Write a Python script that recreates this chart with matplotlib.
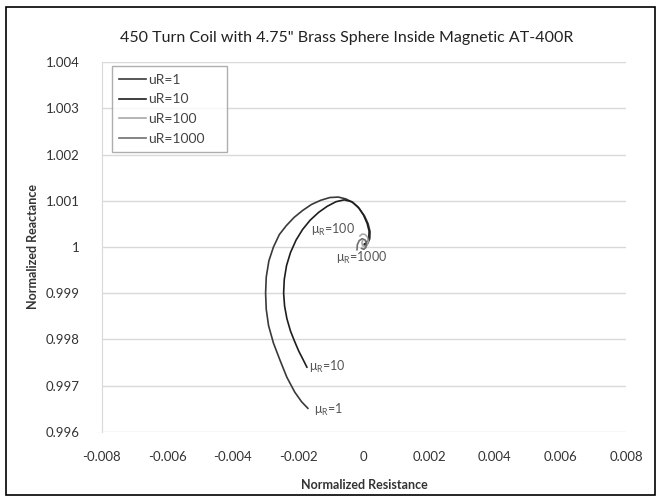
# curvas de impedancia normalizada (bobina con esfera de latón)
import matplotlib
matplotlib.use('Agg')
import matplotlib.pyplot as plt
from matplotlib.patches import Rectangle

plt.rcParams['font.family'] = ['Lato', 'DejaVu Sans']

# datos
series = ['uR=1', 'uR=10', 'uR=100', 'uR=1000']
colores = ['#3a3a3a', '#1e1e1e', '#a8a8a8', '#6e6e6e']

r_1 = [-0.00171, -0.00190, -0.00211, -0.00235, -0.00256, -0.00276, -0.00291,
       -0.00298, -0.00300, -0.00298, -0.00290, -0.00276, -0.00258, -0.00237,
       -0.00213, -0.00187, -0.00160, -0.00132, -0.00104, -0.00078, -0.00055,
       -0.00033, -0.00014, 0.00002, 0.00013, 0.00019, 0.00018, 0.00012,
       0.00004]
x_1 = [0.99651, 0.99665, 0.99686, 0.99718, 0.99755, 0.99792, 0.99830,
       0.99865, 0.99900, 0.99935, 0.99970, 1.00000, 1.00027, 1.00046,
       1.00064, 1.00079, 1.00092, 1.00101, 1.00107, 1.00108, 1.00104,
       1.00096, 1.00083, 1.00067, 1.00050, 1.00033, 1.00018, 1.00008,
       1.00004]

r_10 = [-0.00174, -0.00186, -0.00199, -0.00211, -0.00224, -0.00235, -0.00242,
        -0.00245, -0.00243, -0.00236, -0.00224, -0.00207, -0.00187, -0.00164,
        -0.00138, -0.00112, -0.00085, -0.00060, -0.00037, -0.00017, -0.00001,
        0.00010, 0.00016, 0.00015, 0.00009, 0.00001]
x_10 = [0.99740, 0.99757, 0.99775, 0.99795, 0.99818, 0.99845, 0.99872,
        0.99900, 0.99930, 0.99960, 0.99988, 1.00015, 1.00038, 1.00058,
        1.00075, 1.00088, 1.00098, 1.00102, 1.00098, 1.00086, 1.00069,
        1.00051, 1.00034, 1.00020, 1.00010, 1.00006]

r_100 = [-0.00012, -0.00005, 0.00004, 0.00011, 0.00013, 0.00010, 0.00003,
         -0.00004, -0.00006, -0.00004]
x_100 = [1.00024, 1.00028, 1.00027, 1.00021, 1.00012, 1.00004, 1.00000,
         1.00003, 1.00009, 1.00014]

r_1000 = [-0.00021, -0.00020, -0.00014, -0.00005, 0.00004, 0.00008, 0.00006,
          0.00000, -0.00007]
x_1000 = [0.99994, 1.00005, 1.00014, 1.00018, 1.00015, 1.00007, 0.99999,
          0.99995, 0.99997]

etiquetas = ['μ$_\\mathregular{R}$=1', 'μ$_\\mathregular{R}$=10',
             'μ$_\\mathregular{R}$=100', 'μ$_\\mathregular{R}$=1000']
etq_x = [-0.00152, -0.00166, -0.00160, -0.00085]
etq_y = [0.99647, 0.99741, 1.00036, 0.99976]

xticks = [-0.008, -0.006, -0.004, -0.002, 0, 0.002, 0.004, 0.006, 0.008]
yticks = [0.996, 0.997, 0.998, 0.999, 1, 1.001, 1.002, 1.003, 1.004]

fig = plt.figure(figsize=(6.61, 5.01), dpi=100)
ax = fig.add_axes([0.154, 0.138, 0.793, 0.738])

datos = [(r_1, x_1), (r_10, x_10), (r_100, x_100), (r_1000, x_1000)]
for (rr, xx), nombre, c in zip(datos, series, colores):
    ax.plot(rr, xx, color=c, linewidth=1.2, label=nombre)

for t, tx, ty in zip(etiquetas, etq_x, etq_y):
    ax.text(tx, ty, t, fontsize=9, color='#555555', va='center', ha='left')

ax.set_xlim(-0.008, 0.008)
ax.set_ylim(0.996, 1.004)
ax.set_xticks(xticks)
ax.set_yticks(yticks)
ax.set_xticklabels(['-0.008', '-0.006', '-0.004', '-0.002', '0', '0.002',
                    '0.004', '0.006', '0.008'])
ax.set_yticklabels(['0.996', '0.997', '0.998', '0.999', '1', '1.001',
                    '1.002', '1.003', '1.004'])
ax.tick_params(length=0, labelsize=9.5, labelcolor='#333333')
ax.tick_params(axis='y', pad=16)
ax.tick_params(axis='x', pad=14)
ax.grid(axis='y', color='#d9d9d9', linewidth=1)
for s in ['top', 'right', 'bottom']:
    ax.spines[s].set_visible(False)
ax.spines['left'].set_color('#d9d9d9')

fig.text(0.525, 0.925, '450 Turn Coil with 4.75" Brass Sphere Inside Magnetic AT-400R',
         fontsize=11.5, color='#222222', ha='center', va='center')
ax.set_xlabel('Normalized Resistance', fontsize=9, fontweight='bold',
              color='#333333', labelpad=11)
ax.set_ylabel('Normalized Reactance', fontsize=9, fontweight='bold',
              color='#333333', labelpad=5)

leg = ax.legend(loc='upper left', bbox_to_anchor=(0.019, 0.75, 0.219, 0.239),
                mode='expand', fontsize=10, handlelength=1.9,
                handletextpad=0.15, labelspacing=0.55, fancybox=False,
                edgecolor='#9a9a9a', borderpad=0.55, borderaxespad=0)
for txt in leg.get_texts():
    txt.set_color('#444444')

fig.patches.append(Rectangle((0.009, 0.012), 0.982, 0.974, fill=False,
                             edgecolor='black', linewidth=1.2,
                             transform=fig.transFigure))

plt.savefig('out.png', dpi=100)
